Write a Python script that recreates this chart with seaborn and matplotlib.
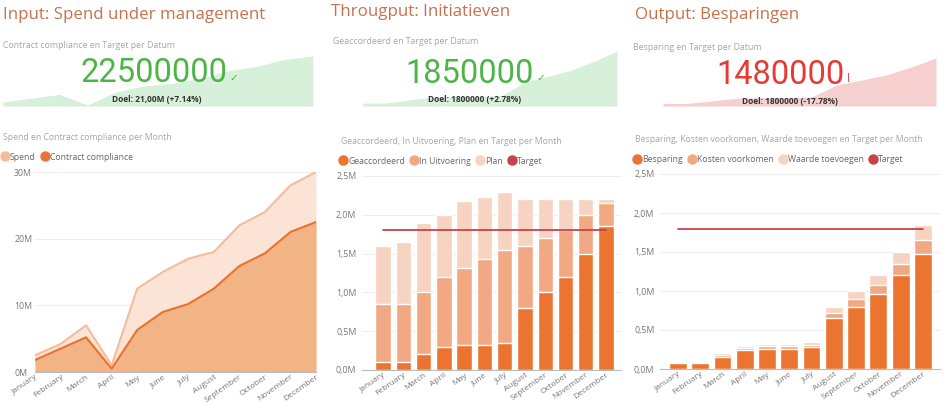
import numpy as np
import pandas as pd
import matplotlib
matplotlib.use('Agg')
import matplotlib.pyplot as plt
import seaborn as sns
from matplotlib.lines import Line2D

#DATA
months = ['January', 'February', 'March', 'April', 'May', 'June', 'July',
          'August', 'September', 'October', 'November', 'December']
#Input: spend under management (M)
spend = [2.5, 4.2, 7.0, 1.0, 12.5, 15.0, 17.0, 18.0, 22.0, 24.0, 28.0, 30.0]
compliance = [1.8, 3.5, 5.2, 0.5, 6.3, 9.0, 10.2, 12.5, 15.9, 17.8, 21.0, 22.5]
#Throughput: initiatieven (M, stacked)
geaccordeerd = [0.10, 0.10, 0.20, 0.30, 0.32, 0.32, 0.35, 0.80, 1.00, 1.20, 1.50, 1.85]
in_uitvoering = [0.75, 0.75, 0.80, 0.90, 1.00, 1.11, 1.20, 0.80, 0.70, 0.60, 0.50, 0.30]
plan = [0.75, 0.80, 0.90, 0.80, 0.86, 0.80, 0.75, 0.60, 0.50, 0.40, 0.20, 0.05]
#Output: besparingen (M, stacked)
besparing = [0.08, 0.08, 0.16, 0.24, 0.26, 0.26, 0.28, 0.65, 0.80, 0.96, 1.20, 1.48]
kosten_voorkomen = [0.01, 0.01, 0.02, 0.03, 0.03, 0.03, 0.03, 0.07, 0.10, 0.12, 0.15, 0.18]
waarde_toevoegen = [0.01, 0.01, 0.02, 0.03, 0.03, 0.03, 0.04, 0.08, 0.10, 0.12, 0.15, 0.19]
target = 1.8
#KPI cards
kpi_titles = ['Contract compliance en Target per Datum', 'Geaccordeerd en Target per Datum',
              'Besparing en Target per Datum']
kpi_values = ['22500000', '1850000', '1480000']
kpi_goals = ['Doel: 21,00M (+7.14%)', 'Doel: 1800000 (+2.78%)', 'Doel: 1800000 (-17.78%)']

#COLORS
dark = '#EB7530'
mid = '#F2A882'
light = '#F7D3C1'
red_line = '#C6434B'
title_col = '#C4734D'
grey_txt = '#A6A6A6'
tick_col = '#777777'
green = '#4DB548'
green_fill = '#D6F0D9'
red = '#E63B35'
red_fill = '#F6CFCF'

sns.set_theme(style='white')
plt.rcParams['font.family'] = ['Open Sans', 'DejaVu Sans']

W, H = 945, 403
fig = plt.figure(figsize=(W/100, H/100), dpi=100)
fig.patch.set_facecolor('white')

def box(x0, y0, x1, y1):
    #pixel box (top-left origin) -> figure fraction
    return [x0/W, 1-y1/H, (x1-x0)/W, (y1-y0)/H]

def ftext(x, y, s, **kw):
    fig.text(x/W, 1-y/H, s, **kw)

def style_axis(ax, ymax, yticks, ylabels):
    ax.set_ylim(0, ymax)
    ax.set_yticks(yticks)
    ax.set_yticklabels(ylabels)
    ax.grid(axis='y', color='#EEEEEE', lw=0.8)
    ax.set_axisbelow(True)
    for s in ['top', 'right', 'left']:
        ax.spines[s].set_visible(False)
    ax.spines['bottom'].set_color('#BBBBBB')
    ax.spines['bottom'].set_linewidth(0.8)
    ax.tick_params(axis='y', length=0, labelsize=6.3, labelcolor=tick_col, pad=4)
    ax.tick_params(axis='x', length=0, labelsize=6.0, labelcolor=tick_col, pad=1)
    ax.set_xticks(range(12))
    ax.set_xticklabels(months, rotation=35, ha='right', rotation_mode='anchor')
    ax.set_xlabel('')
    ax.set_ylabel('')

def legend(x, y, items):
    handles = [Line2D([], [], marker='o', ls='', color=c, markersize=6.5, label=l) for l, c in items]
    fig.legend(handles=handles, loc='center left', bbox_to_anchor=(x/W, 1-y/H), ncol=len(items),
               frameon=False, fontsize=6.2, handletextpad=0.05, columnspacing=0.6,
               borderaxespad=0, borderpad=0, labelcolor='#666666', handlelength=1.0)

#HEADERS
for x, y, s in [(3, 15, 'Input: Spend under management'), (331, 12, 'Througput: Initiatieven'),
                (635, 15, 'Output: Besparingen')]:
    ftext(x, y, s, fontsize=12.2, color=title_col, va='center', ha='left')

#KPI CARDS (sparklines + numbers)
spark_boxes = [(3, 56, 313, 106), (363, 51, 617, 106), (663, 58, 936, 106)]
spark_data = [compliance, geaccordeerd, besparing]
spark_cols = [green_fill, green_fill, red_fill]
for (x0, y0, x1, y1), d, c in zip(spark_boxes, spark_data, spark_cols):
    ax = fig.add_axes(box(x0, y0, x1, y1))
    xs = np.arange(len(d))
    ax.fill_between(xs, 0, d, color=c, lw=0)
    ax.set_xlim(0, len(d)-1)
    ax.set_ylim(0, max(d))
    ax.axis('off')

kpi_sub_pos = [(3, 46), (333, 41), (633, 48)]
kpi_num_pos = [(154, 73), (470, 74), (780, 75)]
kpi_cols = [green, green, red]
kpi_goal_pos = [(157, 100), (475, 100), (790, 102)]
for i in range(3):
    ftext(*kpi_sub_pos[i], kpi_titles[i], fontsize=6.3, color=grey_txt, va='center')
    ftext(*kpi_num_pos[i], kpi_values[i], fontsize=23.5, color=kpi_cols[i], va='center', ha='center',
          family=['Roboto', 'DejaVu Sans'], fontweight='normal')
    ftext(*kpi_goal_pos[i], kpi_goals[i], fontsize=6, color='#333333', va='center', ha='center',
          fontweight='bold')
ftext(229, 78, '✓', fontsize=7.5, color=green, va='center', family='DejaVu Sans')
ftext(536, 78, '✓', fontsize=7.5, color=green, va='center', family='DejaVu Sans')
ftext(846, 78, '!', fontsize=8.5, color=red, va='center')

#INPUT: area chart
ftext(3, 137, 'Spend en Contract compliance per Month', fontsize=6.2, color=grey_txt, va='center')
legend(1, 157, [('Spend', '#F5BC9B'), ('Contract compliance', dark)])
ax1 = fig.add_axes(box(35, 172, 316, 372))
xs = np.arange(12)
ax1.fill_between(xs, 0, spend, color='#FBE3D6', lw=0)
ax1.fill_between(xs, 0, compliance, color='#F2B385', lw=0)
sns.lineplot(x=xs, y=spend, color='#F5BC9B', lw=1.5, ax=ax1)
sns.lineplot(x=xs, y=compliance, color='#E8722E', lw=1.5, ax=ax1)
style_axis(ax1, 30, [0, 10, 20, 30], ['0M', '10M', '20M', '30M'])
ax1.set_xlim(0, 11)
ax1.tick_params(axis='y', pad=15)
for lbl in ax1.get_yticklabels():
    lbl.set_ha('left')

#THROUGHPUT / OUTPUT: stacked bars
def stacked(ax, parts, colors, width, xlim):
    tops = np.cumsum(parts, axis=0)
    for top, c in reversed(list(zip(tops, colors))):
        sns.barplot(x=months, y=top, color=c, width=width, ax=ax, saturation=1)
    sns.lineplot(x=np.arange(12), y=[target]*12, color=red_line, lw=1.3, ax=ax)
    style_axis(ax, 2.5, [0, 0.5, 1.0, 1.5, 2.0, 2.5], ['0,0M', '0,5M', '1,0M', '1,5M', '2,0M', '2,5M'])
    ax.set_xlim(*xlim)

ftext(341, 141, 'Geaccordeerd, In Uitvoering, Plan en Target per Month', fontsize=6.2,
      color=grey_txt, va='center')
legend(339, 161, [('Geaccordeerd', dark), ('In Uitvoering', mid), ('Plan', light), ('Target', red_line)])
ax2 = fig.add_axes(box(362, 176, 621, 370))
stacked(ax2, [geaccordeerd, in_uitvoering, plan], [dark, mid, light], 0.76, (-1.04, 11.74))

ftext(635, 140, 'Besparing, Kosten voorkomen, Waarde toevoegen en Target per Month', fontsize=6.2,
      color=grey_txt, va='center')
legend(633, 160, [('Besparing', dark), ('Kosten voorkomen', mid), ('Waarde toevoegen', light),
                  ('Target', red_line)])
ax3 = fig.add_axes(box(660, 174, 940, 369))
stacked(ax3, [besparing, kosten_voorkomen, waarde_toevoegen], [dark, mid, light], 0.8, (-0.81, 11.77))

plt.savefig('out.png', dpi=100, facecolor='white')
